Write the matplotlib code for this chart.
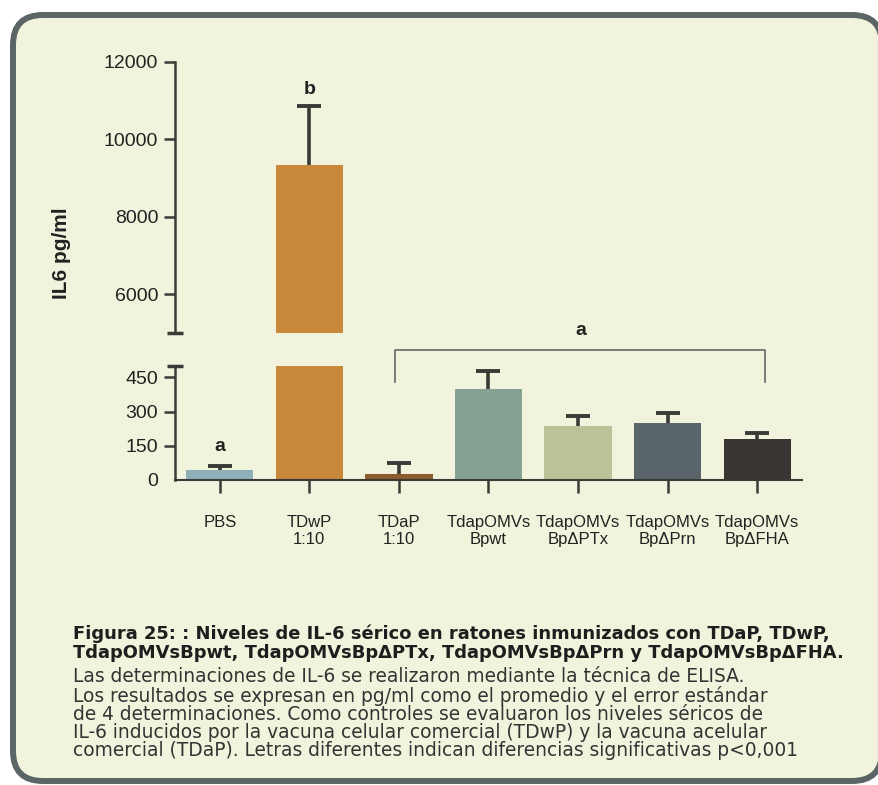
import numpy as np
import matplotlib
matplotlib.use("Agg")
import matplotlib.pyplot as plt
from matplotlib.patches import FancyBboxPatch
from matplotlib.transforms import IdentityTransform

plt.rcParams["font.family"] = ["Liberation Sans", "DejaVu Sans"]

groups = ["PBS", "TDwP\n1:10", "TDaP\n1:10", "TdapOMVs\nBpwt",
          "TdapOMVs\nBpΔPTx", "TdapOMVs\nBpΔPrn", "TdapOMVs\nBpΔFHA"]
il6_mean = [45, 9350, 26, 400, 235, 248, 178]
il6_sem = [17, 1525, 49, 78, 44, 44, 26]
bar_colors = ["#8fb0b9", "#c8893a", "#8c5d2c", "#86a294",
              "#bcc297", "#59656a", "#3a3432"]

upper_ticks = [6000, 8000, 10000, 12000]
lower_ticks = [0, 150, 300, 450]

caption_title = [
    "Figura 25: : Niveles de IL-6 sérico en ratones inmunizados con TDaP, TDwP,",
    "TdapOMVsBpwt, TdapOMVsBpΔPTx, TdapOMVsBpΔPrn y TdapOMVsBpΔFHA.",
]
caption_body = [
    "Las determinaciones de IL-6 se realizaron mediante la técnica de ELISA.",
    "Los resultados se expresan en pg/ml como el promedio y el error estándar",
    "de 4 determinaciones. Como controles se evaluaron los niveles séricos de",
    "IL-6 inducidos por la vacuna celular comercial (TDwP) y la vacuna acelular",
    "comercial (TDaP). Letras diferentes indican diferencias significativas p<0,001",
]

dark = "#3a3a37"
W, H = 879, 785

fig = plt.figure(figsize=(W / 100, H / 100), dpi=100)
fig.patch.set_facecolor("white")

# rounded cream panel behind everything (right edge runs off the page)
panel = FancyBboxPatch((13, 4), 869, 766,
                       boxstyle="round,pad=0,rounding_size=30",
                       transform=IdentityTransform(),
                       facecolor="#f1f3dc", edgecolor="#5b6566",
                       linewidth=4.3, zorder=-10)
fig.patches.append(panel)

def fig_box(x0, y0, x1, y1):
    return [x0 / W, 1 - y1 / H, (x1 - x0) / W, (y1 - y0) / H]

ax_top = fig.add_axes(fig_box(175, 62, 802, 333))
ax_bot = fig.add_axes(fig_box(175, 366, 802, 480))

x = np.arange(len(groups))
for ax in (ax_top, ax_bot):
    ax.set_zorder(2)
    ax.set_facecolor("none")
    ax.bar(x, il6_mean, width=0.75, color=bar_colors, zorder=2)
    _, caps, _ = ax.errorbar(x, il6_mean, yerr=[np.zeros(len(x)), il6_sem],
                             fmt="none", ecolor=dark, elinewidth=2.6,
                             capsize=8.5, capthick=2.8, zorder=3)
    caps[0].set_visible(False)  # one-sided bars: keep only the upper cap
    ax.set_xlim(-0.5, 6.5)
    for side in ("top", "right"):
        ax.spines[side].set_visible(False)
    ax.spines["left"].set_color(dark)
    ax.spines["left"].set_linewidth(1.8)
    ax.tick_params(axis="y", direction="out", length=8, width=1.8,
                   color=dark, labelsize=14, pad=4, labelcolor="#222222")

# upper segment (break)
ax_top.set_ylim(5000, 12000)
ax_top.set_yticks(upper_ticks)
ax_top.spines["bottom"].set_visible(False)
ax_top.set_xticks([])
ax_top.plot([-0.012, 0.012], [0, 0], transform=ax_top.transAxes,
            color=dark, lw=2.5, clip_on=False, solid_capstyle="butt")

# lower segment
ax_bot.set_ylim(0, 500)
ax_bot.set_yticks(lower_ticks)
ax_bot.yaxis.get_major_ticks()[0].tick1line.set_visible(False)
ax_bot.spines["bottom"].set_color(dark)
ax_bot.spines["bottom"].set_linewidth(1.5)
ax_bot.set_xticks(x)
ax_bot.set_xticklabels(groups, fontsize=12, linespacing=1.15, color="#222222")
ax_bot.tick_params(axis="x", direction="out", length=9, width=1.8,
                   color=dark, pad=16)
ax_bot.plot([-0.012, 0.012], [1, 1], transform=ax_bot.transAxes,
            color=dark, lw=2.5, clip_on=False, solid_capstyle="butt")

# significance letters and bracket
ax_top.text(1, 11280, "b", ha="center", va="center", fontsize=14,
            fontweight="bold", color="#222222")
ax_bot.text(0, 147, "a", ha="center", va="center", fontsize=14,
            fontweight="bold", color="#222222")
ax_bot.plot([1.96, 1.96, 6.09, 6.09], [428, 572, 572, 428],
            color="#6d7373", lw=1.3, clip_on=False)
ax_bot.text(4.03, 656, "a", ha="center", va="center", fontsize=14,
            fontweight="bold", color="#222222", clip_on=False)

fig.text(62 / W, 1 - 253 / H, "IL6 pg/ml", rotation=90, ha="center",
         va="center", fontsize=15, fontweight="bold", color="#222222")

# caption (wider face so line lengths fit at the smaller height)
cap_font = ["DejaVu Sans"]
for i, line in enumerate(caption_title):
    fig.text(73 / W, 1 - (634 + 19 * i) / H, line, ha="left", va="center",
             fontsize=12.9, fontweight="bold", family=cap_font,
             color="#1e1e1e")
for i, line in enumerate(caption_body):
    fig.text(73 / W, 1 - (677 + 18.5 * i) / H, line, ha="left", va="center",
             fontsize=13.4, family=cap_font, color="#333333")

fig.savefig("out.png", dpi=100)
